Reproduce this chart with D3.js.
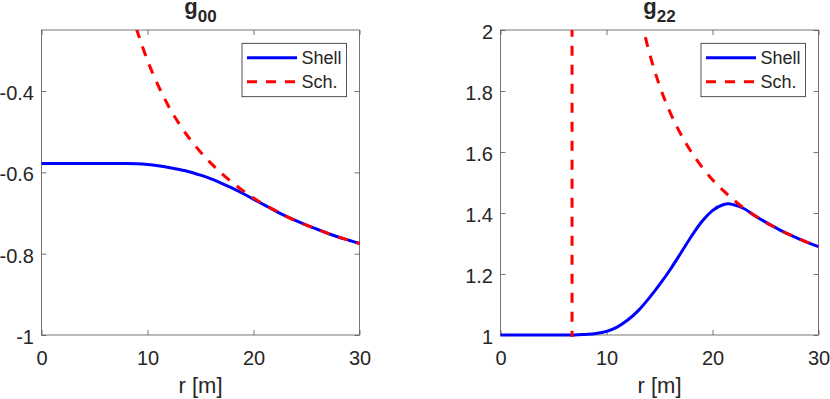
<!DOCTYPE html>
<html>
<head>
<meta charset="utf-8">
<script src="https://cdn.jsdelivr.net/npm/d3@7"></script>
<style>
  body { margin: 0; background: #fff; }
  text { font-family: "Liberation Sans", Arial, sans-serif; fill: #262626; }
</style>
</head>
<body>
<div id="chart"></div>
<script>
// Data
const rShell00 = [0,1,2,3,4,5,6,7,8,9,10,11,12,13,14,15,16,17,18,19,20,21,22,23,24,25,26,27,28,29,30]
const g00Shell = [-0.578,-0.578,-0.578,-0.578,-0.578,-0.578,-0.578,-0.578,-0.578,-0.579,-0.581,-0.584,-0.588,-0.593,-0.599,-0.607,-0.616,-0.627,-0.639,-0.652,-0.666,-0.680,-0.694,-0.707,-0.719,-0.730,-0.740,-0.750,-0.759,-0.767,-0.775]

const rShell22 = [0,1,2,3,4,5,6,7,8,9,10,11,12,13,14,15,16,17,18,19,20,21,21.5,22,23,24,25,26,27,28,29,30]
const g22Shell = [1.000,1.000,1.000,1.000,1.000,1.000,1.000,1.000,1.002,1.005,1.012,1.026,1.049,1.080,1.120,1.165,1.214,1.268,1.323,1.372,1.408,1.427,1.430,1.427,1.414,1.391,1.370,1.351,1.333,1.318,1.303,1.290]

const rSch00 = [8,8.5,9,9.5,10,11,12,13,14,15,16,17,18,19,20,21,22,23,24,25,26,27,28,29,30]
const g00Sch = [-0.156,-0.206,-0.250,-0.289,-0.325,-0.386,-0.438,-0.481,-0.518,-0.550,-0.578,-0.603,-0.625,-0.645,-0.663,-0.679,-0.693,-0.707,-0.719,-0.730,-0.740,-0.750,-0.759,-0.767,-0.775]

const rSch22 = [0,3,6,6.7,6.8,7,7.5,8,9,10,11,12,13,13.5,14,15,16,17,18,19,20,21,22,23,24,25,26,27,28,29,30]
const g22Sch = [0,-0.8,-8,-134,136,28,10,6.4,4.0,3.077,2.588,2.286,2.080,2.000,1.931,1.818,1.730,1.659,1.600,1.551,1.509,1.474,1.443,1.415,1.391,1.370,1.351,1.333,1.318,1.303,1.290]

const xTicks = [0, 10, 20, 30]
const yTicks00 = [-1, -0.8, -0.6, -0.4]
const yTicks22 = [1, 1.2, 1.4, 1.6, 1.8, 2]
const seriesNames = ['Shell', 'Sch.']

// Canvas
const W = 830, H = 399
const m = { top: 30, bottom: 64 }
const w = 318
const h = H - m.top - m.bottom

const svg = d3.select('#chart')
  .append('svg')
  .attr('width', W)
  .attr('height', H)

const panels = [
  { id: 'p00', left: 41.5, title: '00', yDomain: [-1, -0.25], yTicks: yTicks00,
    shell: rShell00.map((r, i) => [r, g00Shell[i]]), sch: rSch00.map((r, i) => [r, g00Sch[i]]) },
  { id: 'p22', left: 500.5, title: '22', yDomain: [1, 2], yTicks: yTicks22,
    shell: rShell22.map((r, i) => [r, g22Shell[i]]), sch: rSch22.map((r, i) => [r, g22Sch[i]]) }
]

panels.forEach(p => {
  const g = svg.append('g').attr('transform', `translate(${p.left},${m.top})`)

  const xScale = d3.scaleLinear().domain([0, 30]).range([0, w])
  const yScale = d3.scaleLinear().domain(p.yDomain).range([h, 0])

  // Box
  g.append('rect')
    .attr('width', w).attr('height', h)
    .attr('fill', 'none').attr('stroke', '#555').attr('stroke-width', 0.8)

  // Axes
  const styleAxis = sel => {
    sel.select('.domain').remove()
    sel.selectAll('.tick line').attr('stroke', '#555').attr('stroke-width', 0.8)
    sel.selectAll('.tick text').style('font-size', '20px').attr('fill', '#262626')
  }
  g.append('g')
    .attr('transform', `translate(0,${h})`)
    .call(d3.axisBottom(xScale).tickValues(xTicks).tickSize(-5).tickPadding(15.8).tickFormat(d => String(d)))
    .call(styleAxis)
  g.append('g')
    .call(d3.axisTop(xScale).tickValues(xTicks).tickSize(-5).tickFormat(''))
    .call(styleAxis)
  g.append('g')
    .call(d3.axisLeft(yScale).tickValues(p.yTicks).tickSize(-5).tickPadding(7.5).tickFormat(d => String(d)))
    .call(styleAxis)
    .selectAll('.tick text').attr('dy', '0.43em')
  g.append('g')
    .attr('transform', `translate(${w},0)`)
    .call(d3.axisRight(yScale).tickValues(p.yTicks).tickSize(-5).tickFormat(''))
    .call(styleAxis)

  // Lines
  g.append('clipPath')
    .attr('id', p.id + '-clip')
    .append('rect')
    .attr('x', -2).attr('y', 0)
    .attr('width', w + 4).attr('height', h + 2)

  const line = d3.line()
    .x(d => xScale(d[0]))
    .y(d => yScale(d[1]))
    .curve(d3.curveMonotoneX)

  const plot = g.append('g').attr('clip-path', `url(#${p.id}-clip)`)
  plot.append('path')
    .attr('d', line(p.shell))
    .attr('fill', 'none').attr('stroke', '#0000ff').attr('stroke-width', 3)
  plot.append('path')
    .attr('d', line(p.sch))
    .attr('fill', 'none').attr('stroke', '#ff0000').attr('stroke-width', 3)
    .attr('stroke-dasharray', '10,9')

  // Title
  const title = g.append('text')
    .attr('x', w / 2).attr('y', 13.5 - m.top)
    .attr('text-anchor', 'middle')
    .style('font-weight', 'bold')
  title.append('tspan').style('font-size', '22px').text('g')
  title.append('tspan').style('font-size', '17px').attr('dy', 8.3).text(p.title)

  // x label
  g.append('text')
    .attr('x', w / 2).attr('y', 393 - m.top)
    .attr('text-anchor', 'middle')
    .style('font-size', '22px')
    .text('r [m]')

  // Legend
  const lw = 104.5, lh = 53.4
  const leg = g.append('g').attr('transform', `translate(${w - 13 - lw},13.3)`)
  leg.append('rect')
    .attr('width', lw).attr('height', lh)
    .attr('fill', '#fff').attr('stroke', '#262626').attr('stroke-width', 0.8)
  const legStyles = [
    { color: '#0000ff', dash: null },
    { color: '#ff0000', dash: '10,9' }
  ]
  seriesNames.forEach((name, i) => {
    const yy = 14.4 + i * 24
    leg.append('line')
      .attr('x1', 5).attr('x2', 55).attr('y1', yy).attr('y2', yy)
      .attr('stroke', legStyles[i].color).attr('stroke-width', 3)
      .attr('stroke-dasharray', legStyles[i].dash)
    leg.append('text')
      .attr('x', 59.5).attr('y', yy).attr('dy', '0.36em')
      .style('font-size', '18px')
      .text(name)
  })
})
</script>
</body>
</html>
